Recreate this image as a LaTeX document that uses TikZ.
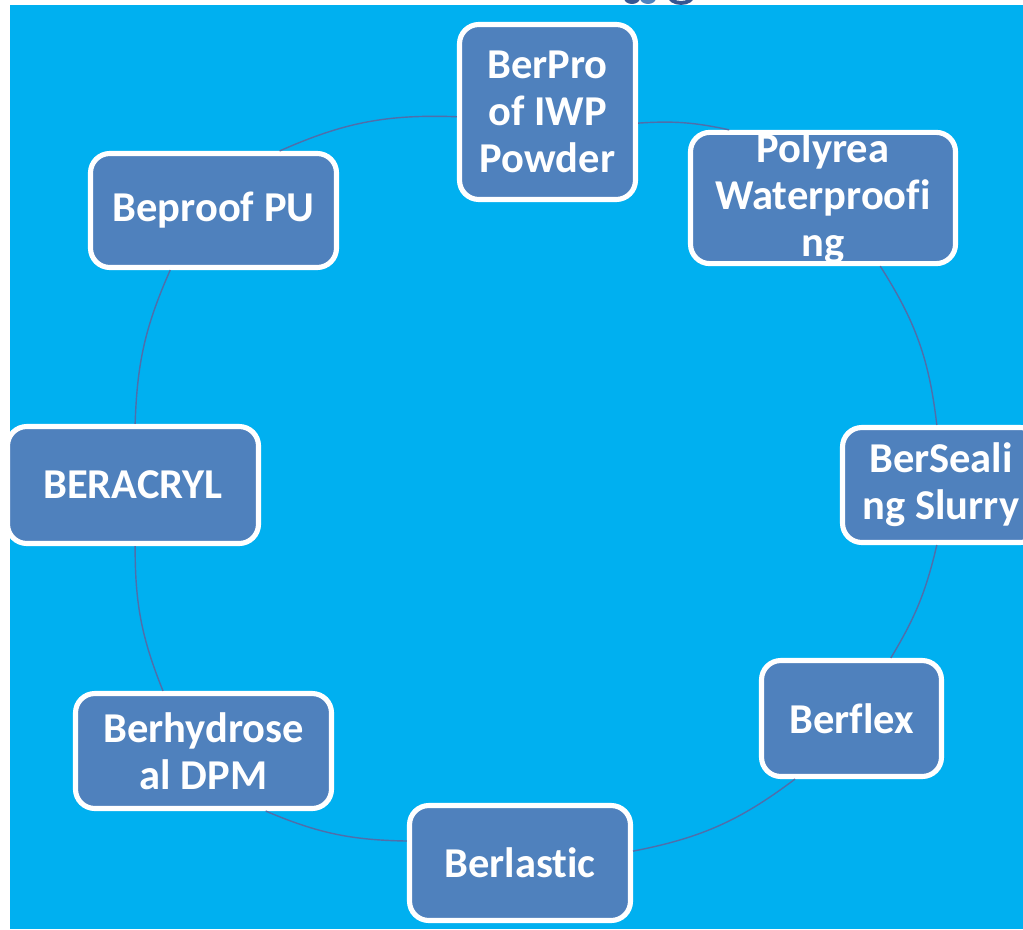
\documentclass[tikz,border=0pt]{standalone}
\usepackage{fontspec}
\setmainfont{Carlito}[Ligatures=NoCommon]
\definecolor{bgblue}{RGB}{0,176,240}
\definecolor{boxblue}{RGB}{79,129,189}
\definecolor{linkblue}{RGB}{80,110,170}
\definecolor{darkblue}{RGB}{55,85,145}
\tikzset{
  cyclebox/.style={draw=white, line width=2.9pt, fill=boxblue, rounded corners=11pt,
    text=white, font=\fontsize{24.2}{26.8}\selectfont\bfseries, align=center, inner sep=0pt},
  link/.style={draw=linkblue, line width=0.8pt}
}
\begin{document}
\begin{tikzpicture}[x=0.02cm, y=-0.02cm]
\useasboundingbox (0,0) rectangle (1023,929);
\clip (0,0) rectangle (1023,929);
\fill[bgblue] (10,5) rectangle (1023,929);
% partial marks at top edge
\fill[darkblue] (632,-2) ellipse [x radius=8, y radius=6];
\fill[boxblue] (648,-2) ellipse [x radius=8, y radius=6];
\draw[darkblue, line width=2.2pt] (681,-5) ellipse [x radius=12, y radius=8];
% nodes
\node[cyclebox, minimum width=176*0.02cm, minimum height=175*0.02cm] (berpro) at (547.5,112) {BerPro\\of IWP\\Powder};
\node[cyclebox, minimum width=265*0.02cm, minimum height=115*0.02cm] (polyrea) at (823,198) {Polyrea\\Waterproofi\\ng};
\node[cyclebox, minimum width=197*0.02cm, minimum height=115*0.02cm] (bersealing) at (941,485) {BerSeali\\ng Slurry};
\node[cyclebox, minimum width=180*0.02cm, minimum height=116*0.02cm] (berflex) at (851.5,718.5) {Berflex};
\node[cyclebox, minimum width=221*0.02cm, minimum height=115*0.02cm] (berlastic) at (520,863) {Berlastic};
\node[cyclebox, minimum width=256*0.02cm, minimum height=115*0.02cm] (berhydro) at (203.5,751) {Berhydrose\\al DPM};
\node[cyclebox, minimum width=251*0.02cm, minimum height=117*0.02cm] (beracryl) at (133,485) {BERACRYL};
\node[cyclebox, minimum width=246*0.02cm, minimum height=114*0.02cm] (beproof) at (213.5,210.5) {Beproof PU};
% connectors
\draw[link] (berpro.183.8) to[bend right=13] (beproof.42.7);
\draw[link] (beproof.234.7) to[bend right=11] (beracryl.88);
\draw[link] (beracryl.272) to[bend right=11] (berhydro.124.2);
\draw[link] (berhydro.-44.8) to[bend right=11] (berlastic.169.5);
\draw[link] (berlastic.6.6) to[bend right=13] (berflex.227.5);
\draw[link] (berflex.57.5) to[bend right=9] (bersealing.266);
\draw[link] (bersealing.94) to[bend right=13] (polyrea.-50.2);
\draw[link] (polyrea.144.1) to[bend right=8] (berpro.-7.6);
\end{tikzpicture}
\end{document}
